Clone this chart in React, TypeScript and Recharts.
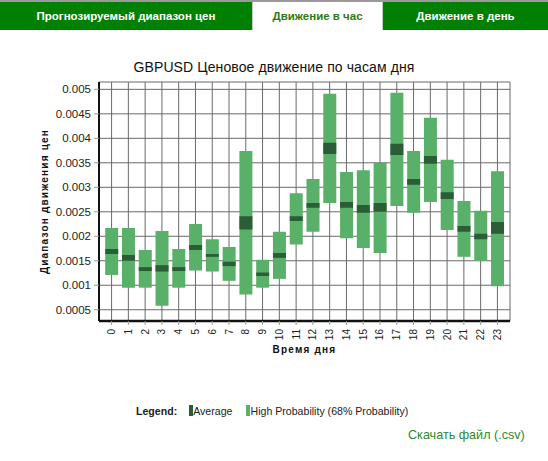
import React from 'react'
import {
  ComposedChart,
  Bar,
  XAxis,
  YAxis,
  CartesianGrid,
} from 'recharts'

const hours = [0, 1, 2, 3, 4, 5, 6, 7, 8, 9, 10, 11, 12, 13, 14, 15, 16, 17, 18, 19, 20, 21, 22, 23]

// 68% probability range per hour
const probLow = [0.00121, 0.00095, 0.00095, 0.00058, 0.00095, 0.0013, 0.00128, 0.00109, 0.00081, 0.00095, 0.00113, 0.00183, 0.00209, 0.00268, 0.00196, 0.00176, 0.00166, 0.00262, 0.00248, 0.0027, 0.00213, 0.00158, 0.0015, 0.00098]
const probHigh = [0.00217, 0.00217, 0.00172, 0.00211, 0.00174, 0.00225, 0.00194, 0.00178, 0.00374, 0.00152, 0.00209, 0.00288, 0.00317, 0.00491, 0.00331, 0.00335, 0.0035, 0.00493, 0.00374, 0.00442, 0.00356, 0.00272, 0.00252, 0.00333]

// average band per hour
const avgLow = [0.00164, 0.0015, 0.00129, 0.00128, 0.00129, 0.00172, 0.00158, 0.00139, 0.00214, 0.00119, 0.00156, 0.00231, 0.00258, 0.00368, 0.00258, 0.00248, 0.0025, 0.00366, 0.00305, 0.00348, 0.00276, 0.00209, 0.00194, 0.00205]
const avgHigh = [0.00174, 0.00162, 0.00137, 0.00141, 0.00137, 0.00182, 0.00164, 0.00148, 0.00241, 0.00126, 0.00166, 0.00241, 0.00268, 0.00391, 0.0027, 0.00264, 0.00268, 0.00389, 0.00317, 0.00364, 0.0029, 0.00221, 0.00205, 0.00229]

const yTicks = [0.0005, 0.001, 0.0015, 0.002, 0.0025, 0.003, 0.0035, 0.004, 0.0045, 0.005]

const tabs = ['Прогнозируемый диапазон цен', 'Движение в час', 'Движение в день']

const LIGHT = '#59b169'
const DARK = '#2b5d37'
const FONT = '"Liberation Sans", Arial, sans-serif'

const data = hours.map((h, i) => ({
  hour: h,
  prob: [probLow[i], probHigh[i]],
  avg: [avgLow[i], avgHigh[i]],
}))

// rotated hour labels under the x axis
const HourTick = (props: any) => {
  const { x, y, payload } = props
  return (
    <g transform={`translate(${x},${y})`}>
      <text transform="rotate(-90)" textAnchor="end" dy="0.35em" fontSize={10} fill="#222" fontFamily={FONT}>
        {payload.value}
      </text>
    </g>
  )
}

export default function App() {
  return (
    <div style={{ position: 'absolute', left: 0, top: 0, width: 548, height: 461, background: '#fff', fontFamily: FONT, overflow: 'hidden' }}>
      {/* tab strip */}
      <div style={{ position: 'absolute', left: 0, top: 0, width: 548, height: 2, background: '#9a9a9a' }} />
      <div style={{ position: 'absolute', left: 0, top: 2, width: 548, height: 28, background: '#008000' }} />
      <div style={{ position: 'absolute', left: 0, top: 2, width: 252, height: 28, display: 'flex', alignItems: 'center', justifyContent: 'center', color: '#fff', fontWeight: 'bold', fontSize: 11.5 }}>
        {tabs[0]}
      </div>
      <div style={{ position: 'absolute', left: 252, top: 2, width: 129, height: 28, background: '#fff', borderLeft: '1px solid #c8c8c8', borderRight: '1px solid #c8c8c8', display: 'flex', alignItems: 'center', justifyContent: 'center', color: '#2f7a10', fontWeight: 'bold', fontSize: 11.5 }}>
        {tabs[1]}
      </div>
      <div style={{ position: 'absolute', left: 383, top: 2, width: 165, height: 28, display: 'flex', alignItems: 'center', justifyContent: 'center', color: '#fff', fontWeight: 'bold', fontSize: 11.5 }}>
        {tabs[2]}
      </div>

      <div style={{ position: 'absolute', left: 0, top: 59, width: 548, textAlign: 'center', fontSize: 14, color: '#111', letterSpacing: 0.1 }}>
        GBPUSD Ценовое движение по часам дня
      </div>

      <div style={{ position: 'absolute', left: 0, top: 0 }}>
        <ComposedChart width={548} height={461} data={data} margin={{ top: 82, right: 38, left: 0, bottom: 120 }}>
          <CartesianGrid stroke="#6a6a6a" strokeWidth={1} xAxisId={0} />
          <XAxis
            xAxisId={0}
            dataKey="hour"
            type="number"
            domain={[-0.75, 23.75]}
            ticks={hours}
            interval={0}
            height={20}
            tickSize={4}
            tickMargin={4}
            tick={<HourTick />}
            tickLine={{ stroke: '#999' }}
            axisLine={{ stroke: '#111', strokeWidth: 2.5 }}
            label={{ value: 'Время дня', position: 'bottom', offset: 5, fontSize: 10, fontWeight: 'bold', fill: '#111', letterSpacing: 1.2, fontFamily: FONT }}
          />
          <XAxis xAxisId={1} dataKey="hour" type="number" domain={[-0.75, 23.75]} hide />
          <YAxis
            type="number"
            domain={[0.00027, 0.00515]}
            allowDataOverflow
            ticks={yTicks}
            width={99}
            tickSize={5}
            tickMargin={3}
            tickFormatter={(v: number) => String(v)}
            tick={{ fontSize: 11.5, fill: '#222', fontFamily: FONT }}
            tickLine={{ stroke: '#999' }}
            axisLine={{ stroke: '#111', strokeWidth: 2 }}
            label={{ value: 'Диапазон движения цен', angle: -90, position: 'insideLeft', offset: 44, fontSize: 10, fontWeight: 'bold', fill: '#111', letterSpacing: 1.2, fontFamily: FONT, style: { textAnchor: 'middle' } }}
          />
          <Bar xAxisId={0} dataKey="prob" fill={LIGHT} barSize={13} isAnimationActive={false} />
          <Bar xAxisId={1} dataKey="avg" fill={DARK} barSize={13} isAnimationActive={false} />
        </ComposedChart>
      </div>

      {/* legend */}
      <div style={{ position: 'absolute', left: 136, top: 404, height: 13, display: 'flex', alignItems: 'center', fontSize: 10.6, color: '#222' }}>
        <span style={{ fontWeight: 'bold' }}>Legend:</span>
        <span style={{ display: 'inline-block', width: 4, height: 11, background: DARK, marginLeft: 12 }} />
        <span>Average</span>
        <span style={{ display: 'inline-block', width: 4, height: 11, background: LIGHT, marginLeft: 14 }} />
        <span>High Probability (68% Probability)</span>
      </div>

      <div style={{ position: 'absolute', left: 408, top: 428, fontSize: 12.6, color: '#2b8a2b' }}>
        Скачать файл (.csv)
      </div>
    </div>
  )
}
